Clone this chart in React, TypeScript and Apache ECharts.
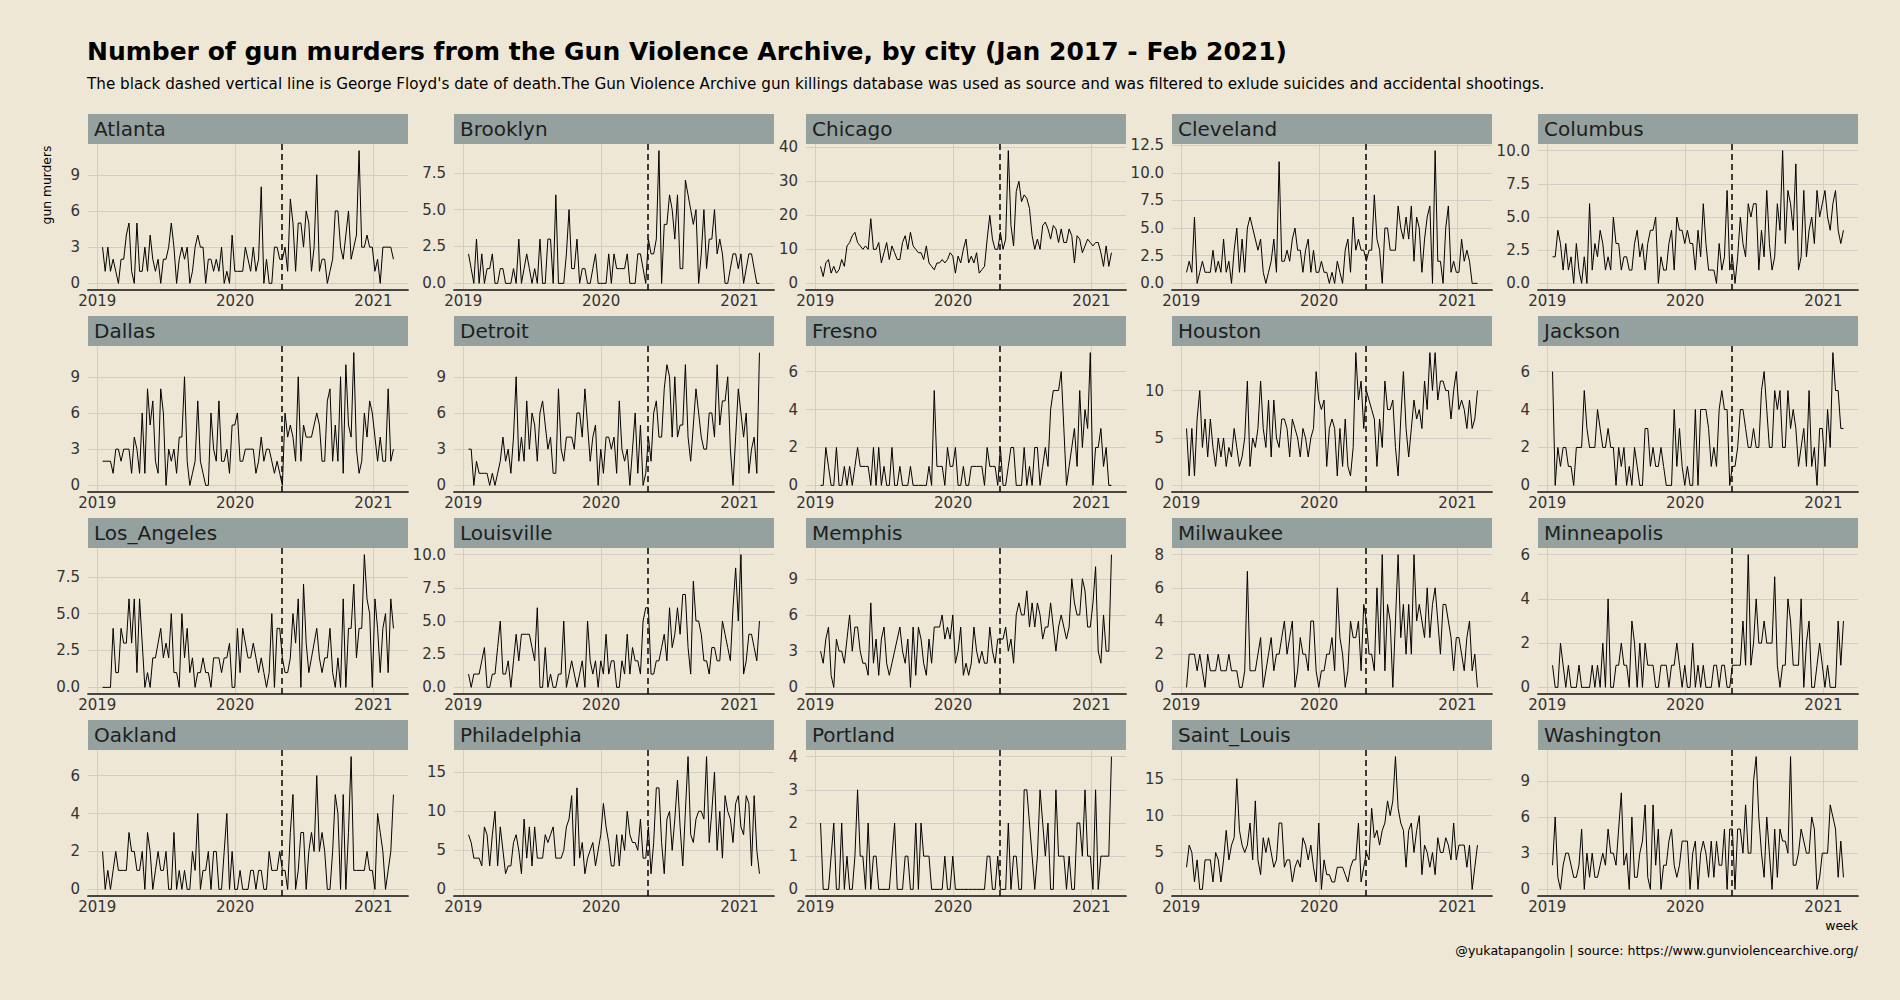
import React, { useEffect, useRef } from "react";
import * as echarts from "echarts";

const TITLE = "Number of gun murders from the Gun Violence Archive, by city (Jan 2017 - Feb 2021)";
const SUBTITLE =
  "The black dashed vertical line is George Floyd's date of death.The Gun Violence Archive gun killings database was used as source and was filtered to exlude suicides and accidental shootings.";
const Y_NAME = "gun murders";
const X_NAME = "week";
const CAPTION = "@yukatapangolin | source: https://www.gunviolencearchive.org/";

const CITIES = [
  "Atlanta", "Brooklyn", "Chicago", "Cleveland", "Columbus",
  "Dallas", "Detroit", "Fresno", "Houston", "Jackson",
  "Los_Angeles", "Louisville", "Memphis", "Milwaukee", "Minneapolis",
  "Oakland", "Philadelphia", "Portland", "Saint_Louis", "Washington",
];

// weekly counts, first week starting mid-January 2019
const atlanta = [3,1,3,1,2,1,0,2,2,4, 5,1,0,5,1,1,3,1,4,2, 1,2,0,2,2,3,5,3,0,2, 3,2,3,0,1,3,4,3,3,0, 2,2,1,2,1,3,0,1,0,4, 1,1,1,1,3,2,1,3,1,2, 8,0,2,0,0,3,3,2,2,3, 1,7,5,1,5,5,3,6,5,1, 3,9,1,2,2,0,1,2,6,6, 3,2,4,6,2,3,4,11,3,3, 4,3,3,1,2,0,3,3,3,3, 2];
const brooklyn = [2,1,0,3,0,2,0,1,1,2, 0,0,1,1,0,0,0,1,0,3, 0,1,2,1,0,1,0,3,0,0, 3,3,0,6,0,0,0,2,5,1, 1,3,0,1,1,0,0,1,2,0, 0,0,0,2,0,2,1,1,1,1, 2,0,0,0,2,2,1,0,3,2, 2,3,9,0,4,4,6,5,3,6, 1,1,7,6,5,4,5,0,2,5, 1,3,3,5,2,3,2,0,0,1, 2,2,1,2,0,1,2,2,1,0, 0];
const chicago = [5,2,6,7,3,5,3,4,7,5, 11,12,14,15,12,11,10,11,10,19, 10,10,12,6,9,12,7,11,9,7, 7,12,14,10,15,11,10,9,9,7, 11,6,5,4,6,6,7,6,7,9, 8,3,8,6,10,13,6,8,6,9, 3,4,5,13,20,13,10,10,15,10, 13,39,17,11,27,30,24,26,25,22, 14,10,13,10,17,18,16,13,17,16, 12,16,12,12,16,14,6,14,13,9, 11,13,12,11,12,12,9,5,11,5, 9];
const cleveland = [1,2,1,6,0,1,2,1,1,1, 3,1,2,1,4,1,2,0,3,5, 1,4,1,5,6,5,4,3,4,1, 0,1,2,4,1,11,2,2,3,2, 4,5,3,3,1,3,4,1,3,1, 1,2,1,1,0,1,0,2,1,0, 3,4,1,6,3,4,3,3,2,3, 3,8,4,3,0,5,5,3,3,3, 7,5,4,6,4,7,2,6,5,1, 4,6,7,0,12,2,2,0,5,7, 1,2,1,1,4,2,3,2,0,0, 0];
const columbus = [2,2,4,3,1,3,1,2,0,3, 1,0,2,0,6,1,3,2,4,3, 1,2,1,5,3,3,1,2,2,1, 1,3,4,2,3,1,3,4,4,5, 0,2,1,1,3,4,1,5,4,4, 3,4,3,3,1,4,2,6,3,1, 1,1,0,3,1,2,7,1,2,0, 2,5,3,2,6,5,6,6,1,4, 2,7,3,1,2,6,4,10,3,7, 6,4,9,1,2,7,2,4,5,3, 7,5,6,7,5,4,6,7,4,3, 4];
const dallas = [2,2,2,2,1,3,3,2,3,3, 3,1,4,3,1,6,1,8,5,7, 2,1,8,6,0,3,2,3,1,4, 4,9,2,0,1,2,7,2,1,0, 0,6,3,2,7,2,2,3,1,5, 5,6,2,2,3,3,3,3,1,2, 4,2,3,3,2,1,2,1,0,6, 4,5,4,2,9,2,5,4,4,4, 5,6,5,2,2,7,8,2,5,2, 9,1,10,5,4,11,3,1,2,6, 4,7,6,4,2,4,2,2,8,2, 3];
const detroit = [3,3,0,2,1,1,1,1,0,1, 0,1,2,4,2,3,1,4,9,2, 4,2,7,3,6,5,2,6,7,5, 3,4,1,1,8,3,2,4,4,4, 3,6,6,4,8,5,2,4,5,0, 3,1,4,4,3,4,1,7,3,2, 3,0,3,6,1,5,0,1,4,2, 6,7,4,4,8,10,9,4,9,4, 5,5,10,4,2,5,8,6,4,3, 3,6,6,4,10,5,7,7,9,3, 0,4,8,6,4,6,1,3,4,1, 11];
const fresno = [0,0,2,1,0,0,2,0,0,1, 0,1,0,1,2,1,1,1,1,0, 2,0,2,0,1,0,0,2,0,0, 1,0,0,0,1,0,0,0,0,0, 0,1,0,5,1,1,1,0,2,1, 1,2,0,0,1,0,0,1,1,1, 1,1,0,2,1,1,1,0,2,0, 0,1,2,2,0,0,0,2,0,1, 0,2,2,0,1,2,1,4,5,5, 5,6,3,0,1,2,3,1,5,2, 4,3,7,0,2,2,3,1,2,0, 0];
const houston = [6,1,6,1,7,10,4,7,3,7, 4,2,5,3,5,2,4,3,6,4, 2,3,5,11,2,5,4,6,11,6, 4,9,3,9,5,4,7,7,6,3, 7,6,5,3,6,5,3,5,6,12, 9,8,9,2,6,7,6,1,6,2, 7,2,1,4,14,9,11,6,10,9, 8,7,2,7,4,11,8,8,9,4, 1,7,12,6,3,6,9,7,8,6, 11,8,14,10,14,9,11,11,10,10, 7,10,12,8,9,8,6,9,6,7, 10];
const jackson = [6,0,2,1,2,2,1,1,0,2, 2,2,5,3,2,2,2,4,3,2, 2,3,2,2,0,2,1,2,0,1, 0,2,1,0,0,3,3,1,2,1, 1,2,1,0,0,0,4,1,3,1, 0,1,0,0,4,0,4,4,4,3, 1,2,1,4,5,4,4,0,1,1, 2,4,4,3,2,2,3,2,2,5, 6,4,2,2,5,4,5,2,2,5, 3,4,3,1,2,3,1,5,1,2, 0,3,3,1,4,2,7,5,5,3, 3];
const losAngeles = [0,0,0,0,4,1,1,4,3,3, 6,3,6,1,6,3,0,1,0,2, 2,3,4,2,3,2,5,1,1,0, 5,2,4,1,2,0,1,1,2,1, 1,0,2,2,2,1,2,2,3,0, 0,4,1,4,3,2,2,3,2,1, 2,1,0,1,5,0,4,4,2,1, 1,2,5,3,6,0,7,3,1,2, 3,4,2,1,2,2,4,1,0,2, 0,6,0,4,4,7,2,4,4,9, 6,5,0,6,4,1,4,5,1,6, 4];
const louisville = [1,0,1,1,1,2,3,0,0,1, 1,3,5,1,1,2,0,2,4,2, 4,4,4,4,3,2,6,0,0,3, 0,1,0,0,1,1,5,0,1,2, 1,0,1,2,0,5,2,1,2,0, 2,1,4,1,2,2,0,0,2,1, 4,1,3,2,2,1,5,6,6,1, 1,2,2,3,4,2,6,3,4,6, 4,7,7,3,1,8,5,5,4,2, 2,1,3,3,2,2,5,4,3,2, 6,9,5,10,1,2,4,4,3,2, 5];
const memphis = [3,2,4,5,1,0,4,3,3,2, 4,6,3,5,5,3,2,2,1,7, 2,4,1,4,5,2,1,2,3,4, 5,3,2,4,0,5,1,5,4,2, 1,4,2,5,5,5,6,4,5,4, 6,2,3,5,1,2,1,2,5,3, 2,3,2,2,5,3,2,4,4,4, 5,3,4,2,6,7,6,6,8,5, 7,5,7,6,4,5,5,7,5,3, 5,6,5,4,5,9,7,6,6,9, 8,5,5,7,10,3,2,6,3,3, 11];
const milwaukee = [0,2,2,2,1,2,1,0,2,1, 1,1,2,1,1,1,2,1,1,1, 0,0,1,7,1,1,1,2,3,0, 1,2,3,1,2,2,3,4,2,3, 4,0,1,3,2,2,1,4,4,1, 0,1,1,2,2,3,1,6,3,2, 0,1,4,3,3,4,1,5,4,2, 2,1,6,2,8,1,5,4,0,4, 8,3,5,2,5,2,8,4,5,4, 3,6,3,5,6,4,2,5,5,4, 3,1,3,3,2,1,3,4,1,2, 0];
const minneapolis = [1,0,0,2,1,0,1,0,0,0, 1,0,0,0,0,1,0,1,0,2, 0,4,0,0,1,1,2,1,1,0, 3,2,0,2,0,2,1,1,1,0, 0,1,1,1,0,1,1,2,1,0, 1,0,0,2,0,1,0,1,0,0, 0,1,1,0,1,1,0,0,1,1, 1,1,3,1,6,1,2,4,2,2, 3,2,2,2,5,1,0,1,1,4, 3,1,1,1,4,0,2,3,0,0, 1,2,1,0,1,0,0,0,3,1, 3];
const oakland = [2,0,1,0,1,2,1,1,1,1, 3,2,2,1,1,2,0,3,2,0, 1,2,1,1,2,0,0,3,0,1, 0,1,0,0,2,1,4,0,1,1, 2,0,2,2,0,0,2,4,0,2, 0,0,1,0,0,0,1,1,0,1, 1,0,0,2,1,1,1,2,1,1, 0,3,5,0,1,3,3,0,2,3, 2,6,2,3,2,0,0,2,5,4, 0,5,0,3,7,1,1,1,1,1, 2,1,1,0,4,3,2,0,1,2, 5];
const philadelphia = [7,6,4,4,4,3,8,7,3,7, 10,3,8,5,2,3,3,6,7,5, 2,9,4,8,3,8,4,4,4,7, 6,7,8,4,4,4,5,8,9,12, 3,13,4,6,2,4,5,6,3,5, 7,11,8,6,3,3,7,3,7,5, 10,7,6,6,5,9,4,4,8,2, 6,13,13,6,2,9,10,5,9,14, 8,3,10,17,7,6,9,10,10,9, 17,6,10,15,5,10,4,12,10,9, 6,11,12,8,7,12,11,3,12,5, 2];
const portland = [2,0,0,0,1,2,0,0,2,0, 1,0,0,1,3,1,1,0,2,0, 1,1,0,0,0,0,0,1,2,0, 0,0,1,1,0,0,2,0,2,1, 1,1,0,0,0,0,0,1,0,0, 1,0,0,0,0,0,0,0,0,0, 0,0,0,1,1,0,0,1,0, 0,0,2,0,1,1,0,0,3,3, 2,1,0,1,3,2,1,2,0,0, 3,1,1,1,0,1,0,0,2,2, 1,3,1,1,0,3,0,1,1,1, 1,4];
const saintLouis = [3,6,5,1,4,0,0,4,4,4, 1,5,4,1,4,8,4,6,7,15, 8,6,5,6,9,4,12,4,2,7, 5,7,5,3,4,9,9,3,4,4, 1,3,4,3,7,6,4,6,3,1, 9,0,4,2,2,1,1,3,3,3, 2,1,3,4,4,9,1,3,5,4, 11,7,8,6,8,9,12,10,12,18, 11,9,8,3,8,9,5,8,10,2, 6,5,3,5,2,7,5,5,7,6, 4,9,4,6,6,6,3,6,0,3, 6];
const washington = [2,6,1,0,2,3,3,2,1,1, 2,5,0,3,1,3,1,1,2,3, 2,5,3,3,2,5,8,2,3,0, 6,1,1,3,4,7,1,0,7,2, 5,0,2,2,4,5,2,1,2,4, 4,4,0,3,4,0,3,4,3,1, 4,1,4,2,2,5,0,5,5,0, 5,5,3,7,3,3,9,11,6,3, 1,6,3,0,5,1,5,4,4,3, 11,2,2,3,5,4,3,3,6,5, 0,1,3,3,3,7,6,5,1,4, 1];

const SERIES_DATA: number[][] = [
  atlanta, brooklyn, chicago, cleveland, columbus,
  dallas, detroit, fresno, houston, jackson,
  losAngeles, louisville, memphis, milwaukee, minneapolis,
  oakland, philadelphia, portland, saintLouis, washington,
];

// y tick values per panel
const Y_TICKS: number[][] = [
  [0, 3, 6, 9], [0, 2.5, 5, 7.5], [0, 10, 20, 30, 40], [0, 2.5, 5, 7.5, 10, 12.5], [0, 2.5, 5, 7.5, 10],
  [0, 3, 6, 9], [0, 3, 6, 9], [0, 2, 4, 6], [0, 5, 10], [0, 2, 4, 6],
  [0, 2.5, 5, 7.5], [0, 2.5, 5, 7.5, 10], [0, 3, 6, 9], [0, 2, 4, 6, 8], [0, 2, 4, 6],
  [0, 2, 4, 6], [0, 5, 10, 15], [0, 1, 2, 3, 4], [0, 5, 10, 15], [0, 3, 6, 9],
];

// x axis
const FIRST_WEEK = Date.UTC(2019, 0, 15);
const WEEK_MS = 7 * 24 * 3600 * 1000;
const YEAR_TICKS = [Date.UTC(2019, 0, 1), Date.UTC(2020, 0, 1), Date.UTC(2021, 0, 1)];
const FLOYD_LINE = Date.UTC(2020, 4, 4);

// layout
const COL_LEFT = [88, 454, 806, 1172, 1538];
const ROW_STRIP_TOP = [114, 316, 518, 720];
const PANEL_W = 320;
const STRIP_H = 30;
const PANEL_H = 146;

const FONT = "DejaVu Sans";
const BG = "#efe7d5";
const STRIP_BG = "#94a19f";
const GRID_COLOR = "#d2cec6";
const LABEL_COLOR = "#333333";

function buildOption() {
  const grids: any[] = [];
  const xAxes: any[] = [];
  const yAxes: any[] = [];
  const series: any[] = [];
  const graphics: any[] = [];

  SERIES_DATA.forEach((vals, k) => {
    const col = k % 5;
    const row = Math.floor(k / 5);
    const left = COL_LEFT[col];
    const stripTop = ROW_STRIP_TOP[row];
    const top = stripTop + STRIP_H;
    const pts = vals.map((v, i) => [FIRST_WEEK + i * WEEK_MS, v]);
    const x0 = pts[0][0];
    const x1 = pts[pts.length - 1][0];
    const xr = x1 - x0;
    const ymax = Math.max(...vals);
    const ticks = Y_TICKS[k];
    const dec = ticks.some((t) => !Number.isInteger(t)) ? 1 : 0;

    grids.push({ left, top, width: PANEL_W, height: PANEL_H, containLabel: false, outerBoundsMode: "none" });
    xAxes.push({
      gridIndex: k,
      type: "value",
      min: x0 - 0.05 * xr,
      max: x1 + 0.05 * xr,
      axisLine: { show: true, onZero: false, lineStyle: { color: "#111", width: 1.7 } },
      axisTick: { show: false, customValues: YEAR_TICKS },
      axisLabel: {
        customValues: YEAR_TICKS,
        formatter: (v: number) => String(new Date(v).getUTCFullYear()),
        margin: 3,
        fontSize: 15,
        fontFamily: FONT,
        color: LABEL_COLOR,
      },
      splitLine: { show: true, lineStyle: { color: GRID_COLOR, width: 1 } },
    });
    yAxes.push({
      gridIndex: k,
      type: "value",
      min: -0.05 * ymax,
      max: 1.05 * ymax,
      axisLine: { show: false },
      axisTick: { show: false, customValues: ticks },
      axisLabel: {
        customValues: ticks,
        formatter: (v: number) => v.toFixed(dec),
        margin: 8,
        fontSize: 15,
        fontFamily: FONT,
        color: LABEL_COLOR,
      },
      splitLine: { show: true, lineStyle: { color: GRID_COLOR, width: 1 } },
    });
    series.push({
      type: "line",
      name: CITIES[k],
      xAxisIndex: k,
      yAxisIndex: k,
      data: pts,
      symbol: "none",
      lineStyle: { color: "#000", width: 1 },
      silent: true,
      markLine: {
        silent: true,
        symbol: "none",
        label: { show: false },
        lineStyle: { color: "#111", type: [6, 4], width: 1.6 },
        data: [{ xAxis: FLOYD_LINE }],
      },
    });
    graphics.push({
      type: "rect",
      shape: { x: left, y: stripTop, width: PANEL_W, height: STRIP_H },
      style: { fill: STRIP_BG },
    });
    graphics.push({
      type: "text",
      x: left + 6,
      y: stripTop + STRIP_H / 2,
      style: {
        text: CITIES[k],
        fontSize: 20,
        fontFamily: FONT,
        fill: "#1e1e1e",
        textAlign: "left",
        align: "left",
        textVerticalAlign: "middle",
        verticalAlign: "middle",
      },
    });
  });

  const txt = (text: string, x: number, y: number, size: number, extra: any = {}, rotation = 0) => ({
    type: "text",
    x,
    y,
    rotation,
    style: {
      text,
      fontSize: size,
      fontFamily: FONT,
      fill: "#000",
      textAlign: extra.align || "left",
      align: extra.align || "left",
      textVerticalAlign: "middle",
      verticalAlign: "middle",
      fontWeight: extra.weight || "normal",
    },
  });

  graphics.push(txt(TITLE, 87, 51, 25, { weight: "bold" }));
  graphics.push(txt(SUBTITLE, 87, 84, 15.2));
  graphics.push(txt(Y_NAME, 47, 185, 12.3, { align: "center" }, Math.PI / 2));
  graphics.push(txt(X_NAME, 1858, 925, 12.5, { align: "right" }));
  graphics.push(txt(CAPTION, 1858, 950, 12.6, { align: "right" }));

  return {
    animation: false,
    backgroundColor: BG,
    grid: grids,
    xAxis: xAxes,
    yAxis: yAxes,
    series,
    graphic: { elements: graphics },
  };
}

export default function App() {
  const ref = useRef<HTMLDivElement>(null);
  useEffect(() => {
    document.body.style.margin = "0";
    const chart = echarts.init(ref.current!, null, { renderer: "svg", width: 1900, height: 1000 });
    chart.setOption(buildOption() as any);
    return () => chart.dispose();
  }, []);
  return (
    <div
      ref={ref}
      style={{ position: "absolute", left: 0, top: 0, width: 1900, height: 1000 }}
    />
  );
}
